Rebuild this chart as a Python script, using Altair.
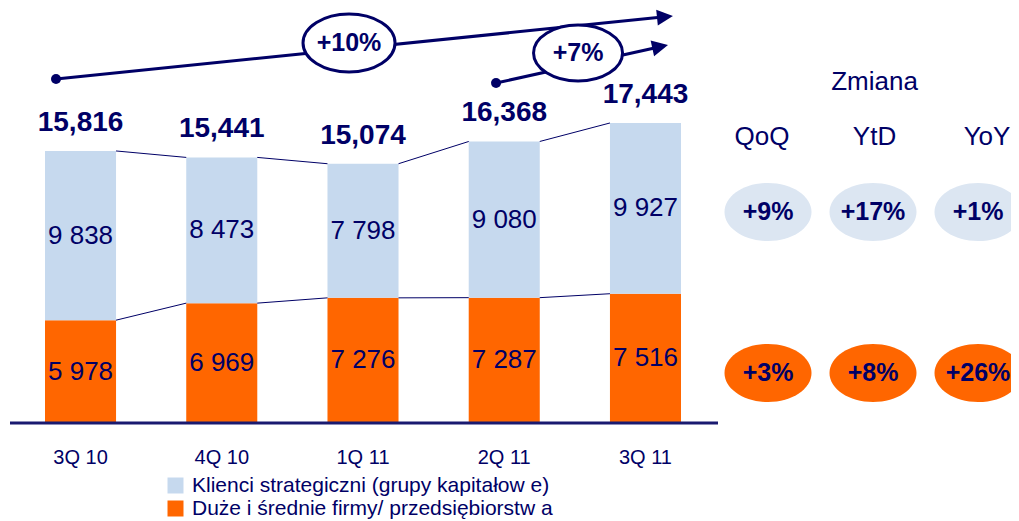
import altair as alt
import pandas as pd

# ---------------- data ----------------
quarters = ["3Q 10", "4Q 10", "1Q 11", "2Q 11", "3Q 11"]
strategic = [9838, 8473, 7798, 9080, 9927]
mid_large = [5978, 6969, 7276, 7287, 7516]
totals = [15816, 15441, 15074, 16368, 17443]
series_names = ["Klienci strategiczni (grupy kapitałow e)",
                "Duże i średnie firmy/ przedsiębiorstw a"]
change_cols = ["QoQ", "YtD", "YoY"]
strategic_change = ["+9%", "+17%", "+1%"]
mid_large_change = ["+3%", "+8%", "+26%"]
growth_labels = ["+10%", "+7%"]
growth_from = ["3Q 10", "2Q 11"]
growth_to = ["3Q 11", "3Q 11"]
panel_title = "Zmiana"

# ---------------- style ----------------
FONT = "Liberation Sans, Arial, sans-serif"
NAVY = "#000066"
BLUE = "#C6D9EE"
ORANGE = "#FF6600"
PANEL_BLUE = "#DCE6F2"
ELL_A = "M -1 0 A 1 0.63 0 1 1 1 0 A 1 0.63 0 1 1 -1 0 Z"
ELL_P = "M -1 0 A 1 0.667 0 1 1 1 0 A 1 0.667 0 1 1 -1 0 Z"
TRI = "M -1 -1 L 1 0 L -1 1 Z"

xscale = alt.Scale(domain=quarters, range=[37, 673], paddingInner=0.497, paddingOuter=0)
yscale = alt.Scale(domain=[0, 20000], range=[415, 71], nice=False, zero=True)
HALF = 35.5


def fmt_space(v):
    return f"{v:,}".replace(",", " ")


rows = []
for q, s, m in zip(quarters, strategic, mid_large):
    rows.append({"cat": q, "series": series_names[1], "value": m, "ord": 0,
                 "mid": m / 2, "label": fmt_space(m)})
    rows.append({"cat": q, "series": series_names[0], "value": s, "ord": 1,
                 "mid": m + s / 2, "label": fmt_space(s)})
df_bars = pd.DataFrame(rows)

df_tot = pd.DataFrame({"cat": quarters, "total": totals,
                       "label": [f"{t:,}" for t in totals]})

df_conn = pd.DataFrame({
    "cat": quarters[:-1] * 2,
    "nxt": quarters[1:] * 2,
    "y1": totals[:-1] + mid_large[:-1],
    "y2": totals[1:] + mid_large[1:],
})

X = alt.X("cat:N", scale=xscale, axis=None)

bars = alt.Chart(df_bars).mark_bar().encode(
    x=X,
    y=alt.Y("value:Q", stack="zero", scale=yscale, axis=None),
    color=alt.Color("series:N",
                    scale=alt.Scale(domain=series_names, range=[BLUE, ORANGE]),
                    legend=alt.Legend(title=None, orient="none", legendX=157, legendY=467,
                                      symbolType="square", symbolSize=256,
                                      labelFontSize=21, labelColor=NAVY, labelFont=FONT,
                                      labelLimit=700, rowPadding=1, labelOffset=6,
                                      padding=0, symbolStrokeWidth=0, symbolOpacity=1)),
    order=alt.Order("ord:Q"),
)

conn = alt.Chart(df_conn).mark_rule(color=NAVY, strokeWidth=1, xOffset=HALF, x2Offset=-HALF).encode(
    x=X, x2="nxt:N",
    y=alt.Y("y1:Q", scale=yscale, axis=None), y2="y2:Q",
)

seg_text = alt.Chart(df_bars).mark_text(font=FONT, fontSize=26, color=NAVY, baseline="middle").encode(
    x=X, y=alt.Y("mid:Q", scale=yscale, axis=None), text="label:N",
)

tot_text = alt.Chart(df_tot).mark_text(font=FONT, fontSize=28, fontWeight="bold", color=NAVY,
                                       baseline="middle", dy=-28).encode(
    x=X, y=alt.Y("total:Q", scale=yscale, axis=None), text="label:N",
)

xlab = alt.Chart(df_tot).mark_text(font=FONT, fontSize=20, color=NAVY, baseline="middle").encode(
    x=X, y=alt.value(450), text="cat:N",
)

base = alt.Chart(pd.DataFrame({"z": [0]})).mark_rule(color="#1A1A70", strokeWidth=3).encode(
    x=alt.value(2), x2=alt.value(710), y=alt.Y("z:Q", scale=yscale, axis=None),
)


def arrow(i, dot_off, dot_y, head_off, head_y, angle, ell_off, ell_y, ell_w):
    d = pd.DataFrame({"from": [growth_from[i]], "to": [growth_to[i]], "label": [growth_labels[i]]})
    XF = alt.X("from:N", scale=xscale, axis=None)
    XT = alt.X("to:N", scale=xscale, axis=None)
    line = alt.Chart(d).mark_rule(color=NAVY, strokeWidth=3, xOffset=dot_off, x2Offset=head_off).encode(
        x=XF, x2="to:N", y=alt.value(dot_y), y2=alt.value(head_y))
    dot = alt.Chart(d).mark_point(shape="circle", filled=True, size=100, color=NAVY, opacity=1,
                                  xOffset=dot_off).encode(x=XF, y=alt.value(dot_y))
    head = alt.Chart(d).mark_point(shape=TRI, filled=True, size=256, angle=angle, color=NAVY,
                                   opacity=1, xOffset=head_off).encode(x=XT, y=alt.value(head_y))
    ell = alt.Chart(d).mark_point(shape=ELL_A, filled=True, color="white", stroke=NAVY,
                                  strokeWidth=3, size=ell_w * ell_w, opacity=1,
                                  xOffset=ell_off).encode(x=XF, y=alt.value(ell_y))
    txt = alt.Chart(d).mark_text(font=FONT, fontSize=25, fontWeight="bold", color=NAVY,
                                 baseline="middle", dx=ell_off).encode(
        x=XF, y=alt.value(ell_y), text="label:N")
    return [line, dot, head, ell, txt]


arrows = arrow(0, -24.5, 71, 19.5, 8.8, 354.2, 268.5, 35, 92) + \
    arrow(1, -8.2, 75, 14.7, 38.7, 347.5, 73.8, 45, 89)

main = alt.layer(bars, conn, base, seg_text, tot_text, xlab, *arrows)

# ---------------- right-hand panel ----------------
df_panel = pd.DataFrame({"metric": change_cols, "sc": strategic_change, "mc": mid_large_change})
pscale = alt.Scale(domain=change_cols, range=[760, 970], type="point", padding=0)
hscale = alt.Scale(domain=change_cols, range=[754, 979], type="point", padding=0)
PX = alt.X("metric:N", scale=pscale, axis=None)
HX = alt.X("metric:N", scale=hscale, axis=None)

p_head = alt.Chart(df_panel).mark_text(font=FONT, fontSize=26, color=NAVY, baseline="middle").encode(
    x=HX, y=alt.value(129), text="metric:N")
p_title = alt.Chart(df_panel).transform_filter(alt.datum.metric == "YtD").mark_text(
    font=FONT, fontSize=26, color=NAVY, baseline="middle").encode(
    x=HX, y=alt.value(74), text=alt.value(panel_title))
headers = alt.layer(p_head, p_title)

p_bell = alt.Chart(df_panel).mark_point(shape=ELL_P, filled=True, color=PANEL_BLUE, size=87 * 87,
                                        opacity=1).encode(x=PX, y=alt.value(204))
p_btxt = alt.Chart(df_panel).mark_text(font=FONT, fontSize=25, fontWeight="bold", color=NAVY,
                                       baseline="middle").encode(x=PX, y=alt.value(204), text="sc:N")
p_oell = alt.Chart(df_panel).mark_point(shape=ELL_P, filled=True, color=ORANGE, size=87 * 87,
                                        opacity=1).encode(x=PX, y=alt.value(365))
p_otxt = alt.Chart(df_panel).mark_text(font=FONT, fontSize=25, fontWeight="bold", color=NAVY,
                                       baseline="middle").encode(x=PX, y=alt.value(365), text="mc:N")

panel = alt.layer(p_bell, p_btxt, p_oell, p_otxt)

chart = alt.layer(main, headers, panel).resolve_scale(x="independent").properties(
    width=1003, height=511, padding=0, autosize="none"
).configure_view(stroke=None)

chart.save("out.html", embed_options={"renderer": "svg", "actions": False})
